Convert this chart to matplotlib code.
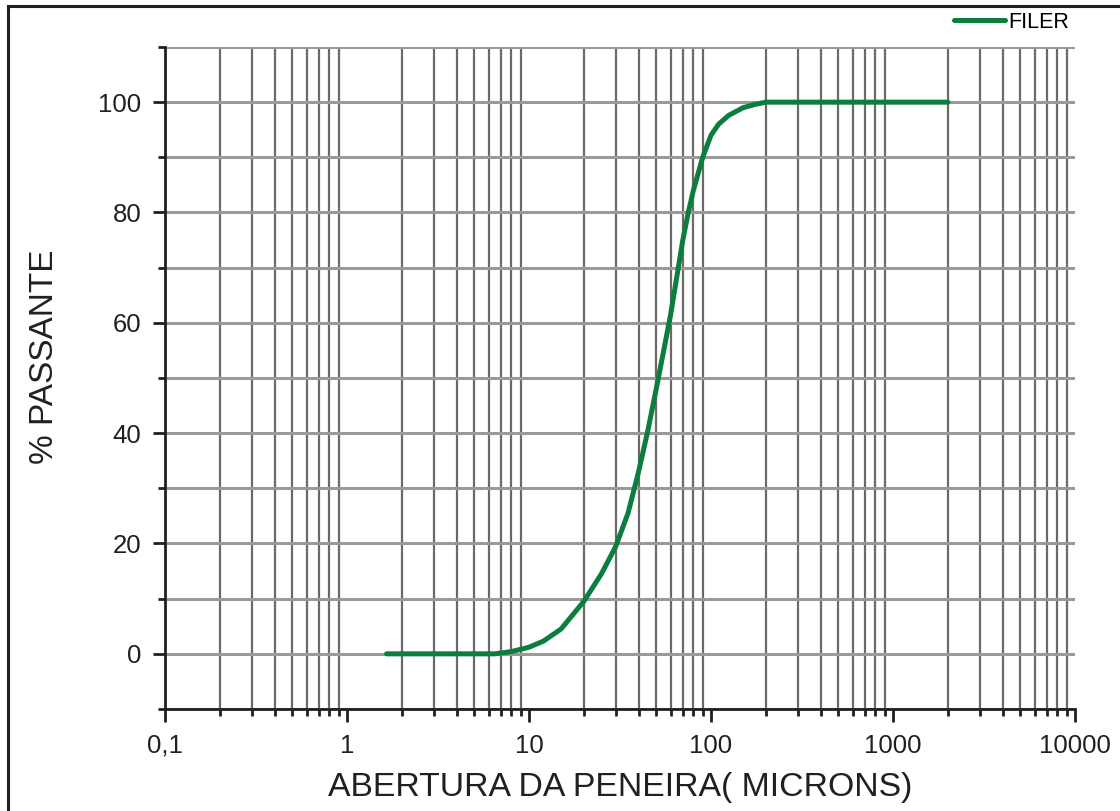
import matplotlib
matplotlib.use("Agg")
import matplotlib.pyplot as plt
import numpy as np
from matplotlib.lines import Line2D
from matplotlib.ticker import FixedLocator, FuncFormatter, LogLocator, MultipleLocator

plt.rcParams["font.family"] = ["Liberation Sans", "DejaVu Sans"]

# curva granulométrica do filer
abertura_um = [1.65, 2, 3, 4, 5, 6, 6.5, 8, 10, 12, 15, 20, 25, 30, 35, 40, 45, 50,
               55, 60, 65, 70, 75, 80, 90, 100, 110, 125, 150, 175, 200, 300, 500,
               1000, 2000]
passante = [0, 0, 0, 0, 0, 0, 0, 0.4, 1.2, 2.3, 4.5, 9.5, 14.5, 19.5, 25.5, 33, 40.5, 48,
            55, 61.5, 68.5, 75, 80, 84, 90, 94, 96, 97.6, 99, 99.6, 100, 100, 100,
            100, 100]
serie = "FILER"
xticks = [0.1, 1, 10, 100, 1000, 10000]
yticks = [0, 20, 40, 60, 80, 100]

ink = "#231f20"
green = "#0b7d3e"

fig = plt.figure(figsize=(11.2, 8.11), dpi=100)
ax = fig.add_axes([165 / 1120, 1 - 709 / 811, 910 / 1120, 662 / 811])

ax.plot(abertura_um, passante, color=green, linewidth=3.6, solid_capstyle="round",
        label=serie, zorder=3)

ax.set_xscale("log")
ax.set_xlim(0.1, 10000)
ax.set_ylim(-10, 110)

ax.xaxis.set_major_locator(FixedLocator(xticks))
ax.xaxis.set_minor_locator(LogLocator(base=10, subs=np.arange(2, 10)))
ax.xaxis.set_major_formatter(FuncFormatter(lambda v, p: f"{v:g}".replace(".", ",")))
ax.xaxis.set_minor_formatter(FuncFormatter(lambda v, p: ""))
ax.yaxis.set_major_locator(FixedLocator(yticks))
ax.yaxis.set_minor_locator(MultipleLocator(10))

ax.grid(which="minor", axis="x", color="#6a6a6a", linewidth=1.6)
ax.grid(which="both", axis="y", color="#9a9a9a", linewidth=2.2)
ax.set_axisbelow(True)

for side in ("top", "right"):
    ax.spines[side].set_visible(False)
for side in ("left", "bottom"):
    ax.spines[side].set_color(ink)
    ax.spines[side].set_linewidth(2.0)

ax.tick_params(which="major", length=9, width=2.0, color=ink, labelsize=18.5,
               labelcolor=ink)
ax.tick_params(which="minor", length=5, width=2.0, color=ink)
ax.tick_params(axis="x", which="major", pad=9)
ax.tick_params(axis="y", which="major", pad=8)

ax.set_xlabel("ABERTURA DA PENEIRA( MICRONS)", fontsize=24.3, color=ink, labelpad=10)
ax.set_ylabel("% PASSANTE", fontsize=24, color=ink)
ax.yaxis.set_label_coords(-0.115, 0.532)

fig.legend(loc="upper right", bbox_to_anchor=(1078 / 1120, 1 - 3 / 811), frameon=False,
           fontsize=15.5, handlelength=2.4, handletextpad=0.15, borderaxespad=0)

# moldura externa
fx = 8 / 1120
fy = 1 - 6 / 811
fig.add_artist(Line2D([fx, fx], [0, fy], color=ink, linewidth=2.2,
                      transform=fig.transFigure, solid_capstyle="projecting"))
fig.add_artist(Line2D([fx, 1], [fy, fy], color=ink, linewidth=2.2,
                      transform=fig.transFigure, solid_capstyle="projecting"))

fig.savefig("out.png", dpi=100)
